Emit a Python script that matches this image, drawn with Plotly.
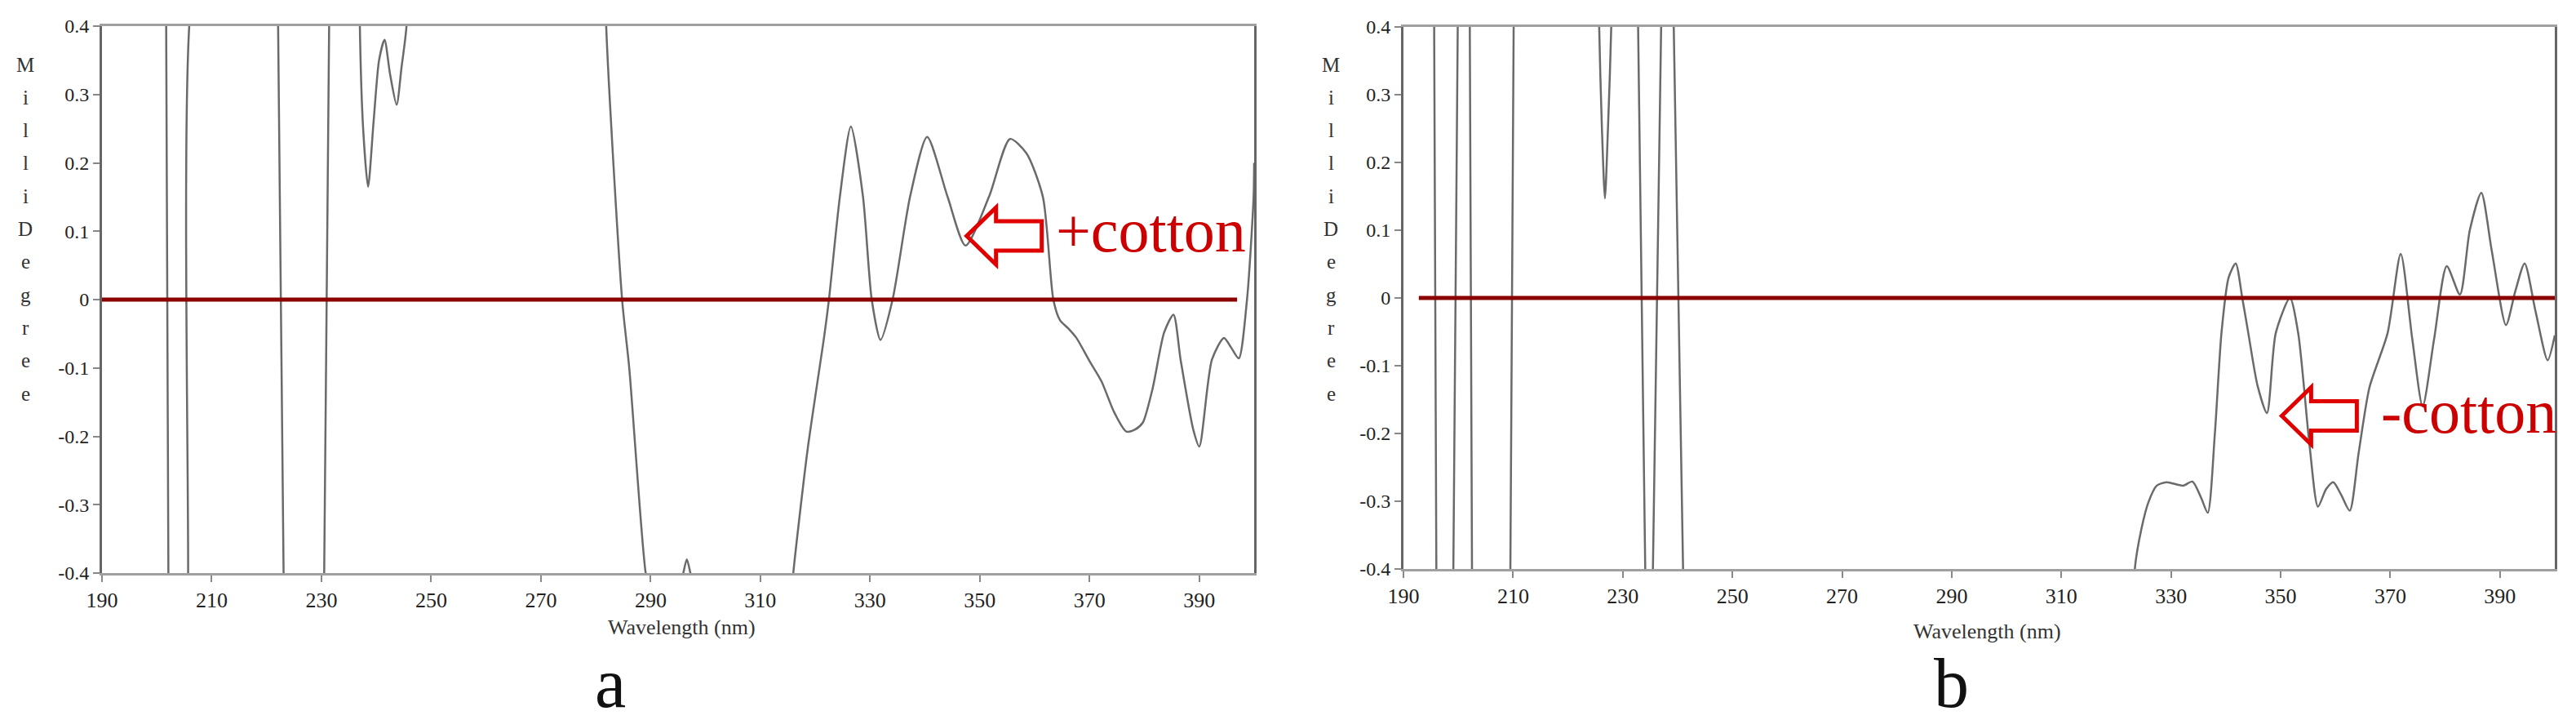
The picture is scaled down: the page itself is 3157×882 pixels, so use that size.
import plotly.graph_objects as go
from plotly.subplots import make_subplots

# CD spectrum (values beyond +-0.4 are off-scale, clipped by the axes)
wl_a = [190, 201.5, 201.7, 202.1, 202.3, 204.0, 205.5, 205.7, 205.9, 214.0, 221.9, 222.1, 223.1, 223.3,
        227.0, 230.3, 230.5, 231.4, 231.6, 236.8, 237.0, 237.6, 238.5, 239.5, 240.5, 241.5, 242.5,
        243.7, 244.6, 245.5, 246.0, 264.0, 281.5, 281.9, 284.8, 286.1, 289.1, 290.0, 295.0, 295.8,
        296.6, 297.4, 298.5, 307.0, 315.5, 316.0, 318.6, 321.7, 322.5, 324.5, 326.5, 328.7, 330.3,
        331.9, 334.1, 337.3, 340.4, 344.1, 347.4, 351.7, 355.5, 358.5, 361.5, 363.4, 364.6, 366.1,
        367.6, 370.0, 372.2, 374.5, 376.7, 378.3, 379.7, 381.5, 383.6, 385.3, 386.6, 388.9, 390.0,
        392.3, 394.5, 395.8, 397.2, 398.7, 399.9, 400.0]
cd_a = [0.8, 0.8, 0.4, -0.4, -0.8, -1.0, -0.8, -0.4, 0.4, 1.0, 0.8, 0.4, -0.4, -0.8,
        -1.0, -0.8, -0.4, 0.4, 0.8, 0.8, 0.4, 0.25, 0.165, 0.26, 0.35, 0.38, 0.33,
        0.285, 0.34, 0.4, 0.6, 1.2, 0.6, 0.4, 0.0, -0.1, -0.4, -0.43, -0.42, -0.405,
        -0.38, -0.405, -0.43, -0.6, -0.45, -0.4, -0.22, -0.05, 0.0, 0.151, 0.253, 0.151, 0.0,
        -0.059, 0.0, 0.151, 0.238, 0.151, 0.079, 0.151, 0.235, 0.214, 0.15, 0.0, -0.03, -0.042,
        -0.056, -0.09, -0.12, -0.165, -0.193, -0.19, -0.18, -0.13, -0.048, -0.022, -0.088, -0.19, -0.215,
        -0.088, -0.056, -0.07, -0.086, 0.0, 0.15, 0.2]

wl_b = [190, 195.4, 195.6, 196.0, 196.2, 197.5, 198.9, 199.1, 199.9, 200.1, 201.0, 201.9, 202.1,
        202.5, 202.7, 206.0, 209.3, 209.5, 210.1, 210.3, 218.0, 225.5, 225.7, 226.2, 226.75,
        227.3, 227.9, 228.1, 230.5, 232.6, 232.8, 234.1, 234.3, 235.3, 235.5, 237.0, 237.2,
        239.1, 239.3, 241.0, 241.2, 280.0, 323.2, 323.4, 324.6, 325.9, 327.4, 329.2, 332.2,
        333.9, 335.5, 336.7, 338.0, 339.2, 340.5, 341.8, 343.0, 344.1, 345.8, 347.5, 349.1,
        351.7, 353.2, 355.3, 356.8, 358.3, 359.6, 361.0, 362.6, 364.2, 366.2, 369.5, 371.9,
        374.0, 375.9, 378.0, 380.3, 382.7, 384.5, 386.6, 388.5, 391.1, 392.8, 394.5, 396.5,
        398.7, 400.0]
cd_b = [0.9, 0.8, 0.4, -0.4, -0.8, -1.0, -0.8, -0.4, 0.4, 0.8, 1.0, 0.8, 0.4,
        -0.4, -0.8, -1.0, -0.8, -0.4, 0.4, 0.8, 1.0, 0.6, 0.4, 0.25, 0.147,
        0.25, 0.4, 0.6, 0.8, 0.6, 0.4, -0.4, -0.6, -0.6, -0.4, 0.4, 0.6,
        0.6, 0.4, -0.4, -0.6, -1.0, -0.6, -0.4, -0.341, -0.301, -0.277, -0.272, -0.277,
        -0.271, -0.295, -0.317, -0.2, -0.052, 0.03, 0.051, 0.0, -0.052, -0.13, -0.17, -0.052,
        0.0, -0.052, -0.22, -0.308, -0.282, -0.272, -0.29, -0.314, -0.23, -0.132, -0.052, 0.065,
        -0.06, -0.16, -0.06, 0.047, 0.005, 0.1, 0.155, 0.07, -0.04, 0.01, 0.051, -0.02,
        -0.092, -0.055]

zero_a_x = [190, 396.9]
zero_b_x = [192.8, 400]
zero_y = [0, 0]

x_ticks = [190, 210, 230, 250, 270, 290, 310, 330, 350, 370, 390]
y_ticks = [0.4, 0.3, 0.2, 0.1, 0, -0.1, -0.2, -0.3, -0.4]
y_tick_text = ["0.4", "0.3", "0.2", "0.1", "0", "-0.1", "-0.2", "-0.3", "-0.4"]
ylab_letters = list("MilliDegree")

W, H = 3157, 882
serif = "Liberation Serif, Times New Roman, serif"

fig = make_subplots(rows=1, cols=2)

for col, (wl, cd, zx) in enumerate([(wl_a, cd_a, zero_a_x), (wl_b, cd_b, zero_b_x)], start=1):
    fig.add_trace(go.Scatter(x=wl, y=cd, mode="lines",
                             line=dict(color="#6a6a6a", width=2.5, shape="spline", smoothing=0.7),
                             showlegend=False), row=1, col=col)
    fig.add_trace(go.Scatter(x=zx, y=zero_y, mode="lines", line=dict(color="#8b0000", width=5),
                             showlegend=False), row=1, col=col)

xax = dict(range=[190, 400], tickvals=x_ticks, ticks="outside", ticklen=8, tickwidth=2,
           tickcolor="#888", showgrid=False, zeroline=False, showline=True, mirror=True,
           automargin=False, linecolor="#a0a0a0", linewidth=3,
           tickfont=dict(family=serif, size=26, color="#222"))
yax = dict(range=[-0.4, 0.4], tickvals=y_ticks, ticktext=y_tick_text, ticks="outside", ticklen=8,
           tickwidth=2, tickcolor="#888", showgrid=False, zeroline=False, showline=True, mirror=True,
           automargin=False, linecolor="#666", linewidth=3,
           tickfont=dict(family=serif, size=24, color="#222"))

fig.update_layout(
    width=W, height=H, autosize=False,
    margin=dict(l=0, r=0, t=0, b=0),
    paper_bgcolor="white", plot_bgcolor="white",
    xaxis=dict(xax, domain=[117 / W, 1529 / W]),
    yaxis=dict(yax, domain=[1 - 694 / H, 1 - 24 / H]),
    xaxis2=dict(xax, domain=[1712 / W, 3123 / W]),
    yaxis2=dict(yax, domain=[1 - 689 / H, 1 - 25 / H]),
)

# stacked y-axis title letters and x titles / panel labels
for xc in [23, 1623]:
    for k, ch in enumerate(ylab_letters):
        fig.add_annotation(x=xc / W, y=1 - (71 + 40.3 * k) / H, xref="paper", yref="paper",
                           text=ch, showarrow=False, xanchor="center", yanchor="middle",
                           font=dict(family=serif, size=25, color="#333"))

for xc, yc in [(827, 760), (2427, 765)]:
    fig.add_annotation(x=xc / W, y=1 - yc / H, xref="paper", yref="paper", text="Wavelength (nm)",
                       showarrow=False, xanchor="center", yanchor="middle",
                       font=dict(family=serif, size=26, color="#333"))

for txt, xc in [("a", 740), ("b", 2383)]:
    fig.add_annotation(x=xc / W, y=1 - 879 / H, xref="paper", yref="paper", text=txt,
                       showarrow=False, xanchor="center", yanchor="bottom",
                       font=dict(family=serif, size=86, color="#111"))

# cotton-effect callouts: hollow red arrow + label
arrow_path = "M0,0 L36,35 L36,18 L92,18 L92,-18 L36,-18 L36,-35 Z"
for xr, yr, ax, ay, lx, ly, label in [("x", "y", 347.6, 0.093, 363.5, 0.101, "+cotton"),
                                      ("x2", "y2", 350.2, -0.174, 368.0, -0.168, "-cotton")]:
    fig.add_shape(type="path", xref=xr, yref=yr, xsizemode="pixel", ysizemode="pixel",
                  xanchor=ax, yanchor=ay, path=arrow_path,
                  line=dict(color="#e00000", width=5), fillcolor="rgba(0,0,0,0)")
    fig.add_annotation(x=lx, y=ly, xref=xr, yref=yr, text=label, showarrow=False,
                       xanchor="left", yanchor="middle",
                       font=dict(family=serif, size=76, color="#cc0000"))

fig.write_html("out.html")
